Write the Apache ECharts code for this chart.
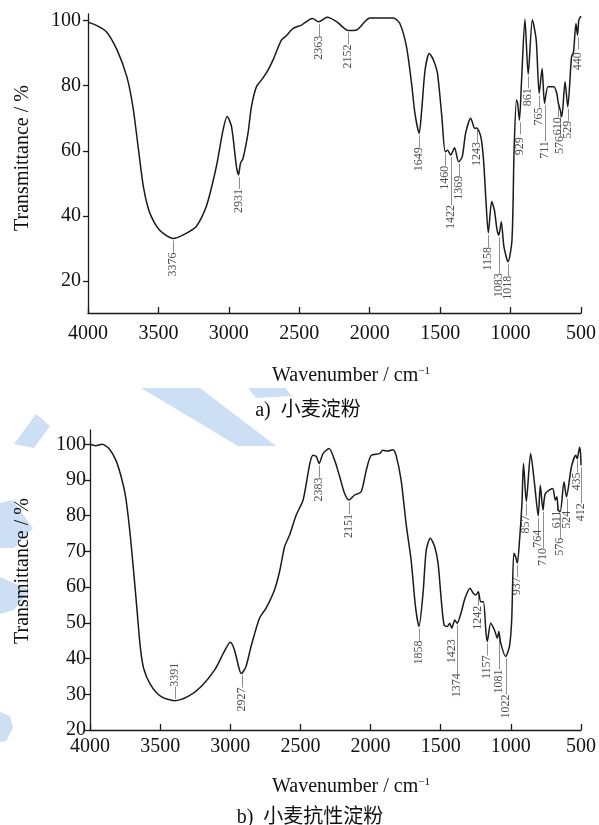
<!DOCTYPE html>
<html><head><meta charset="utf-8">
<script src="https://cdn.jsdelivr.net/npm/echarts@6/dist/echarts.min.js"></script>
<style>html,body{margin:0;padding:0;background:#fff}#c{width:599px;height:825px}</style>
</head><body><div id="c"></div>
<script>
// ---- data ----
const spectrumA = [[4000,99.5],[3930,98.3],[3868,96.5],[3793,90.9],[3724,82.7],[3681,73.5],[3644,61.2],[3607,49.0],[3569,41.8],[3530,38.0],[3493,35.7],[3440,33.9],[3395,33.1],[3328,34.1],[3233,36.7],[3161,42.8],[3089,55.1],[3041,66.4],[3012,70.5],[2981,67.4],[2946,55.1],[2931,52.6],[2918,56.1],[2899,57.7],[2864,65.4],[2840,73.5],[2804,79.7],[2769,81.7],[2722,84.8],[2686,87.9],[2627,94],[2592,95.3],[2544,97.6],[2484,98.6],[2465,99.2],[2407,100.6],[2363,99.6],[2302,101],[2233,99.6],[2152,96.9],[2093,97.1],[2035,99.6],[2000,100.8],[1834,100.8],[1786,99.1],[1739,92],[1703,80.7],[1679,71.5],[1649,65.4],[1631,72.5],[1607,84.8],[1577,89.9],[1548,87.9],[1519,83.8],[1488,70.5],[1464,59.7],[1447,60.2],[1425,58.7],[1398,60.9],[1369,56.6],[1343,58.2],[1319,65.4],[1283,70],[1254,66.9],[1240,67],[1211,64.3],[1192,57.2],[1175,44.9],[1158,34.8],[1134,44.4],[1115,41.8],[1096,35.7],[1083,34.1],[1066,38.2],[1047,30.5],[1018,25.9],[990,32.6],[975,60.2],[958,75.6],[950,74.6],[937,69.4],[923,80.7],[898,100.4],[875,83.5],[845,100.2],[818,94],[797,77.6],[776,85.3],[759,74.6],[734,79.7],[692,79.7],[672,77.6],[661,74.6],[647,72.5],[636,70.5],[613,81.2],[594,73.5],[567,88.9],[553,90.4],[536,99.1],[525,95.5],[515,100.2],[500,101.3]];

const spectrumB = [[4000,100],[3960,99.6],[3914,100],[3865,98.8],[3815,95.5],[3778,90.9],[3746,85.3],[3717,76],[3692,65.7],[3667,54.6],[3642,43.4],[3618,37.3],[3569,32.7],[3495,29.4],[3397,28.2],[3301,29.4],[3207,32.2],[3110,36.9],[3049,41.5],[3000,44.6],[2971,42.5],[2935,36.9],[2921,35.8],[2888,37.8],[2852,43.4],[2792,51.3],[2745,54.1],[2685,59.2],[2649,64.3],[2613,71.3],[2577,74.6],[2530,80.2],[2481,84.4],[2433,94.6],[2410,96.9],[2386,96.5],[2367,94.6],[2339,97.4],[2296,98.8],[2256,95.5],[2220,90.9],[2185,86.2],[2154,84.4],[2114,85.8],[2067,86.7],[2031,92.7],[1996,96.9],[1936,97.4],[1912,98.3],[1877,98.1],[1841,98.5],[1818,96.9],[1782,89.9],[1746,77.5],[1711,67.6],[1680,54.6],[1655,49],[1626,58.3],[1603,70.4],[1574,73.7],[1543,71.3],[1519,66.7],[1496,56.4],[1476,49.4],[1453,49],[1436,49.9],[1421,48.5],[1400,50.8],[1383,49.9],[1352,53.2],[1327,56.9],[1291,59.7],[1268,58.3],[1249,57.8],[1232,58.7],[1215,55.9],[1196,55.9],[1177,47.1],[1168,44.8],[1144,49.9],[1117,48],[1096,45.7],[1086,47.6],[1072,44.3],[1038,40.6],[1010,43.4],[994,50.8],[979,69.5],[966,68.5],[954,66.7],[938,73.2],[921,83.4],[910,94.6],[890,84],[859,97.4],[830,88.5],[805,80],[790,88.5],[771,81.6],[754,86.2],[703,87.6],[683,84.4],[672,85.3],[662,81.6],[648,81.1],[621,89.5],[604,85.3],[568,93.7],[537,96.9],[527,96],[510,99.2],[503,97.5],[500,94.1]];

// peak annotations: [wavenumber, transmittance at mark, label text]
const peaksA = [[3395,33.1,'3376'],[2931,52.6,'2931'],[2363,99.6,'2363'],[2152,96.9,'2152'],[1649,65.4,'1649'],[1464,59.7,'1460'],[1425,58.7,'1422'],[1369,56.6,'1369'],[1240,67,'1243'],[1158,34.8,'1158'],[1083,34.1,'1083'],[1018,25.9,'1018'],[937,69.4,'929'],[875,83.5,'861'],[797,77.6,'765'],[759,74.6,'711'],[661,74.6,'610'],[647,72.5,'576'],[594,73.5,'529'],[525,95.5,'440']];
const peaksB = [[3397,28.2,'3391'],[2921,35.8,'2927'],[2367,94.6,'2383'],[2154,84.4,'2151'],[1655,49,'1858'],[1421,48.5,'1423'],[1383,49.9,'1374'],[1232,58.7,'1242'],[1168,44.8,'1157'],[1086,47.6,'1081'],[1038,40.6,'1022'],[954,66.7,'937'],[890,84,'857'],[805,80,'764'],[771,81.6,'710'],[672,85.3,'611'],[648,81.1,'576'],[604,85.3,'524'],[527,96,'435'],[500,94.1,'412']];

const xTicks = [4000,3500,3000,2500,2000,1500,1000,500];
const yTicksA = [20,40,60,80,100];
const yTicksB = [20,30,40,50,60,70,80,90,100];

// label leader styles (text decoration only)
const tailsA = {'1422':'————','1083':'———','711':'———','576':'——','929':' —','440':' —'};
const tailsB = {'1423':'   ','1374':'————','1081':'———','1022':'———','710':'———','576':'——','412':'———'};
const aboveB = ['3391'];

const SERIF = "'Liberation Serif','Times New Roman',serif";
const INK = '#1a1a1a';

function xAxisCfg(gi){
  return {gridIndex:gi,type:'value',min:500,max:4000,inverse:true,
    axisLine:{show:true,onZero:false,lineStyle:{color:INK,width:1.3}},
    axisTick:{show:true,inside:true,length:6,customValues:xTicks,lineStyle:{color:INK,width:1.3}},
    axisLabel:{customValues:xTicks,formatter:v=>String(v),color:'#111',fontFamily:SERIF,fontSize:20,margin:gi===0?11:7},
    splitLine:{show:false}};
}
function yAxisCfg(gi,min,max,ticks){
  return {gridIndex:gi,type:'value',min:min,max:max,
    axisLine:{show:true,onZero:false,lineStyle:{color:INK,width:1.3}},
    axisTick:{show:true,inside:false,length:5,customValues:ticks,lineStyle:{color:INK,width:1.3}},
    axisLabel:{customValues:ticks,formatter:v=>String(v),color:'#111',fontFamily:SERIF,fontSize:20,margin:gi===0?7:4},
    splitLine:{show:false}};
}
function peakSeries(gi,peaks,tails,above){
  return {type:'scatter',xAxisIndex:gi,yAxisIndex:gi,symbol:'circle',symbolSize:0.1,silent:true,z:5,
    itemStyle:{color:'rgba(0,0,0,0)'},
    data:peaks.map(p=>{
      const up = above.indexOf(p[2])>=0;
      const tail = tails[p[2]]!==undefined?tails[p[2]]:'—';
      return {value:[p[0],p[1]],label:{show:true,position:'inside',rotate:90,
        formatter: up ? ('—'+p[2]) : (p[2]+tail),
        align: up?'left':'right',verticalAlign:'middle',
        padding: up?[0,0,0,2]:[0,2,0,0],
        color:'#222',fontFamily:SERIF,fontSize:12}};
    })};
}

const wm = 'rgba(135,178,232,0.42)';
const option = {
  animation:false,
  backgroundColor:'#fff',
  grid:[{left:88,top:14,width:493,height:299},{left:90,top:430,width:492,height:300}],
  xAxis:[xAxisCfg(0),xAxisCfg(1)],
  yAxis:[yAxisCfg(0,10.2,102,yTicksA),yAxisCfg(1,20,104,yTicksB)],
  series:[
    {type:'line',xAxisIndex:0,yAxisIndex:0,data:spectrumA,symbol:'none',smooth:0.25,z:3,lineStyle:{color:INK,width:1.5}},
    {type:'line',xAxisIndex:1,yAxisIndex:1,data:spectrumB,symbol:'none',smooth:0.25,z:3,lineStyle:{color:INK,width:1.5}},
    peakSeries(0,peaksA,tailsA,[]),
    peakSeries(1,peaksB,tailsB,aboveB)
  ],
  graphic:[
    {type:'polygon',z:-10,shape:{points:[[141,388],[200,388],[276,446],[238,446]]},style:{fill:wm}},
    {type:'polygon',z:-10,shape:{points:[[248,388],[285,388],[292,396],[256,398]]},style:{fill:wm}},
    {type:'polygon',z:-10,shape:{points:[[14,444],[36,414],[50,426],[34,448]]},style:{fill:wm}},
    {type:'polygon',z:-10,shape:{points:[[0,503],[12,500],[33,528],[14,548],[0,548]]},style:{fill:wm}},
    {type:'polygon',z:-10,shape:{points:[[0,577],[30,590],[14,610],[0,614]]},style:{fill:wm}},
    {type:'polygon',z:-10,shape:{points:[[0,712],[10,716],[13,728],[6,741],[0,742]]},style:{fill:wm}},
    {type:'text',x:23,y:158,rotation:Math.PI/2,style:{text:'Transmittance / %',fill:'#111',font:"20px 'Liberation Serif'",align:'center',verticalAlign:'middle'}},
    {type:'text',x:23,y:571,rotation:Math.PI/2,style:{text:'Transmittance / %',fill:'#111',font:"20px 'Liberation Serif'",align:'center',verticalAlign:'middle'}},
    {type:'text',x:351,y:376,style:{text:'{a|Wavenumber / cm}{b|−1}',align:'center',verticalAlign:'middle',
      rich:{a:{fill:'#111',fontFamily:SERIF,fontSize:20},b:{fill:'#111',fontFamily:SERIF,fontSize:11,verticalAlign:'top',padding:[0,0,10,0]}}}},
    {type:'text',x:351,y:787,style:{text:'{a|Wavenumber / cm}{b|−1}',align:'center',verticalAlign:'middle',
      rich:{a:{fill:'#111',fontFamily:SERIF,fontSize:20},b:{fill:'#111',fontFamily:SERIF,fontSize:11,verticalAlign:'top',padding:[0,0,10,0]}}}},
    {type:'text',x:308,y:411,style:{text:'a)  小麦淀粉',fill:'#111',font:"20px 'Liberation Serif','Noto Sans CJK SC'",align:'center',verticalAlign:'middle'}},
    {type:'text',x:310,y:818,style:{text:'b)  小麦抗性淀粉',fill:'#111',font:"20px 'Liberation Serif','Noto Sans CJK SC'",align:'center',verticalAlign:'middle'}}
  ]
};
const chart = echarts.init(document.getElementById('c'),null,{renderer:'canvas'});
chart.setOption(option);
</script>
</body></html>
